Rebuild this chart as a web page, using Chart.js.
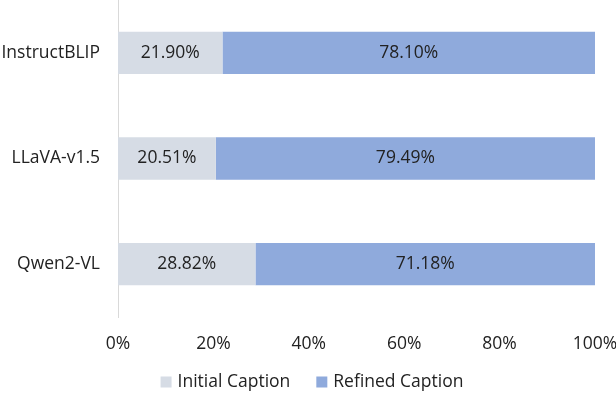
<!DOCTYPE html>
<html>
<head>
<meta charset="utf-8">
<script src="https://cdn.jsdelivr.net/npm/chart.js@4"></script>
<style>
  html, body { margin: 0; padding: 0; background: #fff; }
  #wrap { width: 616px; height: 394px; position: relative; }
</style>
</head>
<body>
<div id="wrap"><canvas id="chart"></canvas></div>
<script>
// 模型名称与两类占比
const models = ['InstructBLIP', 'LLaVA-v1.5', 'Qwen2-VL'];
const seriesNames = ['Initial Caption', 'Refined Caption'];
const initialShare = [21.90, 20.51, 28.82];
const refinedShare = [78.10, 79.49, 71.18];
const xTicks = [0, 20, 40, 60, 80, 100];

const FONT = "'Open Sans', 'Liberation Sans', sans-serif";
const FSIZE = 17.5;

// 在每段中间写百分比
const barLabels = {
    id: 'barLabels',
    afterDatasetsDraw(chart) {
        const ctx = chart.ctx;
        ctx.save();
        ctx.font = FSIZE + 'px ' + FONT;
        ctx.fillStyle = '#222';
        ctx.textAlign = 'center';
        ctx.textBaseline = 'middle';
        chart.data.datasets.forEach((ds, i) => {
            chart.getDatasetMeta(i).data.forEach((bar, j) => {
                const cx = (bar.x + bar.base) / 2;
                ctx.fillText(ds.data[j].toFixed(2) + '%', cx, bar.y);
            });
        });
        ctx.restore();
    }
};

// 底部图例（自己画，方便控制间距）
const bottomLegend = {
    id: 'bottomLegend',
    afterDraw(chart) {
        const ctx = chart.ctx;
        ctx.save();
        ctx.font = FSIZE + 'px ' + FONT;
        ctx.textBaseline = 'middle';
        const box = 11, gapText = 6, gapItem = 26;
        const items = chart.data.datasets.map(ds => ({
            text: ds.label, color: ds.backgroundColor, w: ctx.measureText(ds.label).width
        }));
        const total = items.reduce((s, it) => s + box + gapText + it.w, 0) + gapItem * (items.length - 1);
        let x = chart.width / 2 + 4 - total / 2;
        const y = chart.height - 12;
        items.forEach(it => {
            ctx.fillStyle = it.color;
            ctx.fillRect(x, y - box / 2, box, box);
            ctx.fillStyle = '#222';
            ctx.fillText(it.text, x + box + gapText, y);
            x += box + gapText + it.w + gapItem;
        });
        ctx.restore();
    }
};

// 去掉坐标轴自动留白
function noPad(axis) {
    axis.paddingTop = 0;
    axis.paddingBottom = 0;
    axis.paddingLeft = 0;
    axis.paddingRight = 0;
}

new Chart(document.getElementById('chart'), {
    type: 'bar',
    data: {
        labels: models,
        datasets: [
            { label: seriesNames[0], data: initialShare, backgroundColor: '#D6DCE5', barPercentage: 0.8, categoryPercentage: 0.5 },
            { label: seriesNames[1], data: refinedShare, backgroundColor: '#8FAADC', barPercentage: 0.8, categoryPercentage: 0.5 }
        ]
    },
    options: {
        indexAxis: 'y',
        responsive: true,
        maintainAspectRatio: false,
        animation: false,
        layout: { autoPadding: false, padding: { left: 0, right: 21, top: 0, bottom: 33 } },
        scales: {
            x: {
                stacked: true,
                min: 0, max: 100,
                afterBuildTicks: axis => { axis.ticks = xTicks.map(v => ({ value: v })); },
                afterFit: axis => { axis.height = 44; noPad(axis); },
                grid: { display: false, drawTicks: false },
                border: { display: false },
                ticks: {
                    padding: 17,
                    color: '#222',
                    font: { family: FONT, size: FSIZE },
                    callback: v => v + '%'
                }
            },
            y: {
                stacked: true,
                afterFit: axis => { axis.width = 118; noPad(axis); },
                grid: { display: false, drawTicks: false },
                border: { display: true, color: '#D9D9D9', width: 1 },
                ticks: {
                    padding: 18,
                    color: '#222',
                    font: { family: FONT, size: FSIZE }
                }
            }
        },
        plugins: {
            legend: { display: false },
            tooltip: { enabled: false }
        }
    },
    plugins: [barLabels, bottomLegend]
});
</script>
</body>
</html>
